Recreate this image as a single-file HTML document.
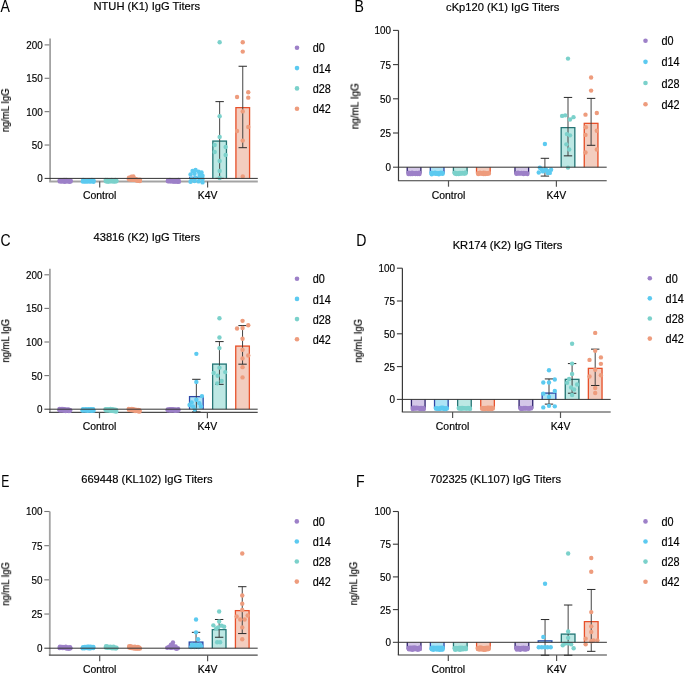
<!DOCTYPE html>
<html><head><meta charset="utf-8"><style>
html,body{margin:0;padding:0;background:#fff;}
svg{display:block;}
text{will-change:transform;}
text{font-family:"Liberation Sans", sans-serif;fill:#000;stroke:#000;stroke-width:0.18px;}
</style></head><body>
<svg width="685" height="674" viewBox="0 0 685 674">
<rect width="685" height="674" fill="#fff"/>
<text x="0" y="0" font-size="16" style="stroke-width:0.05px" transform="translate(0.60,11.80) scale(0.88,1)">A</text>
<text x="93.50" y="9.70" font-size="11.15" text-anchor="start" >NTUH (K1) IgG Titers</text>
<text x="0" y="0" font-size="10.2" text-anchor="middle" transform="translate(9.00,110.30) rotate(-90) scale(0.93,1)">ng/mL IgG</text>
<circle cx="297.00" cy="47.80" r="2.3" fill="#9d80c8"/>
<text x="0" y="0" font-size="12.2" transform="translate(312.70,52.40) scale(0.89,1)">d0</text>
<circle cx="297.00" cy="68.10" r="2.3" fill="#5ccaf0"/>
<text x="0" y="0" font-size="12.2" transform="translate(312.70,72.70) scale(0.89,1)">d14</text>
<circle cx="297.00" cy="88.40" r="2.3" fill="#7bd1cb"/>
<text x="0" y="0" font-size="12.2" transform="translate(312.70,93.00) scale(0.89,1)">d28</text>
<circle cx="297.00" cy="108.70" r="2.3" fill="#ee9c7d"/>
<text x="0" y="0" font-size="12.2" transform="translate(312.70,113.30) scale(0.89,1)">d42</text>
<line x1="44.60" y1="145.03" x2="50.10" y2="145.03" stroke="#777" stroke-width="1.1"/>
<text x="0" y="0" font-size="11.3" text-anchor="end" transform="translate(42.70,148.93) scale(0.875,1)">50</text>
<line x1="44.60" y1="111.65" x2="50.10" y2="111.65" stroke="#777" stroke-width="1.1"/>
<text x="0" y="0" font-size="11.3" text-anchor="end" transform="translate(42.70,115.55) scale(0.875,1)">100</text>
<line x1="44.60" y1="78.28" x2="50.10" y2="78.28" stroke="#777" stroke-width="1.1"/>
<text x="0" y="0" font-size="11.3" text-anchor="end" transform="translate(42.70,82.18) scale(0.875,1)">150</text>
<line x1="44.60" y1="44.90" x2="50.10" y2="44.90" stroke="#777" stroke-width="1.1"/>
<text x="0" y="0" font-size="11.3" text-anchor="end" transform="translate(42.70,48.80) scale(0.875,1)">200</text>
<text x="0" y="0" font-size="11.3" text-anchor="end" transform="translate(42.70,182.30) scale(0.875,1)">0</text>
<line x1="50.10" y1="38.50" x2="50.10" y2="181.50" stroke="#a3a3a3" stroke-width="1.8"/>
<line x1="49.20" y1="181.50" x2="257.80" y2="181.50" stroke="#a3a3a3" stroke-width="1.8"/>
<line x1="99.70" y1="181.50" x2="99.70" y2="187.50" stroke="#555" stroke-width="1.2"/>
<text x="99.70" y="199.30" font-size="10.4" text-anchor="middle" >Control</text>
<line x1="207.60" y1="181.50" x2="207.60" y2="187.50" stroke="#555" stroke-width="1.2"/>
<text x="207.60" y="199.30" font-size="10.4" text-anchor="middle" >K4V</text>
<circle cx="59.79" cy="181.42" r="2.2" fill="#9d80c8"/>
<circle cx="61.31" cy="181.60" r="2.2" fill="#9d80c8"/>
<circle cx="62.97" cy="181.20" r="2.2" fill="#9d80c8"/>
<circle cx="64.38" cy="181.69" r="2.2" fill="#9d80c8"/>
<circle cx="65.82" cy="181.60" r="2.2" fill="#9d80c8"/>
<circle cx="67.17" cy="181.20" r="2.2" fill="#9d80c8"/>
<circle cx="69.13" cy="181.86" r="2.2" fill="#9d80c8"/>
<circle cx="70.57" cy="181.50" r="2.2" fill="#9d80c8"/>
<circle cx="59.68" cy="180.32" r="2.2" fill="#9d80c8"/>
<circle cx="61.37" cy="180.23" r="2.2" fill="#9d80c8"/>
<circle cx="62.89" cy="180.11" r="2.2" fill="#9d80c8"/>
<circle cx="64.07" cy="180.07" r="2.2" fill="#9d80c8"/>
<circle cx="66.10" cy="179.96" r="2.2" fill="#9d80c8"/>
<circle cx="67.39" cy="180.63" r="2.2" fill="#9d80c8"/>
<circle cx="68.54" cy="180.60" r="2.2" fill="#9d80c8"/>
<circle cx="70.61" cy="180.51" r="2.2" fill="#9d80c8"/>
<circle cx="82.82" cy="181.43" r="2.2" fill="#5ccaf0"/>
<circle cx="84.62" cy="181.49" r="2.2" fill="#5ccaf0"/>
<circle cx="85.88" cy="181.41" r="2.2" fill="#5ccaf0"/>
<circle cx="87.20" cy="181.46" r="2.2" fill="#5ccaf0"/>
<circle cx="88.99" cy="181.26" r="2.2" fill="#5ccaf0"/>
<circle cx="90.18" cy="181.61" r="2.2" fill="#5ccaf0"/>
<circle cx="91.69" cy="181.25" r="2.2" fill="#5ccaf0"/>
<circle cx="93.57" cy="181.79" r="2.2" fill="#5ccaf0"/>
<circle cx="83.14" cy="179.94" r="2.2" fill="#5ccaf0"/>
<circle cx="84.46" cy="180.19" r="2.2" fill="#5ccaf0"/>
<circle cx="85.67" cy="180.61" r="2.2" fill="#5ccaf0"/>
<circle cx="87.41" cy="180.58" r="2.2" fill="#5ccaf0"/>
<circle cx="88.72" cy="180.45" r="2.2" fill="#5ccaf0"/>
<circle cx="90.14" cy="180.29" r="2.2" fill="#5ccaf0"/>
<circle cx="91.90" cy="180.03" r="2.2" fill="#5ccaf0"/>
<circle cx="93.46" cy="180.17" r="2.2" fill="#5ccaf0"/>
<circle cx="105.93" cy="181.26" r="2.2" fill="#7bd1cb"/>
<circle cx="107.56" cy="181.65" r="2.2" fill="#7bd1cb"/>
<circle cx="108.69" cy="181.51" r="2.2" fill="#7bd1cb"/>
<circle cx="110.36" cy="181.24" r="2.2" fill="#7bd1cb"/>
<circle cx="112.12" cy="181.41" r="2.2" fill="#7bd1cb"/>
<circle cx="113.56" cy="181.40" r="2.2" fill="#7bd1cb"/>
<circle cx="114.82" cy="181.58" r="2.2" fill="#7bd1cb"/>
<circle cx="116.35" cy="181.29" r="2.2" fill="#7bd1cb"/>
<circle cx="105.69" cy="179.95" r="2.2" fill="#7bd1cb"/>
<circle cx="107.21" cy="180.07" r="2.2" fill="#7bd1cb"/>
<circle cx="108.88" cy="180.29" r="2.2" fill="#7bd1cb"/>
<circle cx="110.70" cy="180.59" r="2.2" fill="#7bd1cb"/>
<circle cx="111.74" cy="179.99" r="2.2" fill="#7bd1cb"/>
<circle cx="113.53" cy="180.60" r="2.2" fill="#7bd1cb"/>
<circle cx="115.33" cy="180.03" r="2.2" fill="#7bd1cb"/>
<circle cx="116.32" cy="180.42" r="2.2" fill="#7bd1cb"/>
<circle cx="128.99" cy="179.21" r="2.2" fill="#ee9c7d"/>
<circle cx="130.37" cy="179.46" r="2.2" fill="#ee9c7d"/>
<circle cx="132.23" cy="179.75" r="2.2" fill="#ee9c7d"/>
<circle cx="133.52" cy="179.73" r="2.2" fill="#ee9c7d"/>
<circle cx="135.13" cy="179.84" r="2.2" fill="#ee9c7d"/>
<circle cx="136.61" cy="180.48" r="2.2" fill="#ee9c7d"/>
<circle cx="138.20" cy="180.91" r="2.2" fill="#ee9c7d"/>
<circle cx="139.89" cy="181.09" r="2.2" fill="#ee9c7d"/>
<circle cx="128.98" cy="177.67" r="2.2" fill="#ee9c7d"/>
<circle cx="130.36" cy="177.97" r="2.2" fill="#ee9c7d"/>
<circle cx="132.29" cy="178.49" r="2.2" fill="#ee9c7d"/>
<circle cx="133.86" cy="178.64" r="2.2" fill="#ee9c7d"/>
<circle cx="135.27" cy="178.97" r="2.2" fill="#ee9c7d"/>
<circle cx="136.56" cy="179.39" r="2.2" fill="#ee9c7d"/>
<circle cx="137.84" cy="179.72" r="2.2" fill="#ee9c7d"/>
<circle cx="139.94" cy="179.78" r="2.2" fill="#ee9c7d"/>
<circle cx="131.35" cy="176.73" r="2.2" fill="#ee9c7d"/>
<circle cx="133.35" cy="176.40" r="2.2" fill="#ee9c7d"/>
<circle cx="167.95" cy="181.24" r="2.2" fill="#9d80c8"/>
<circle cx="169.75" cy="181.41" r="2.2" fill="#9d80c8"/>
<circle cx="171.01" cy="181.22" r="2.2" fill="#9d80c8"/>
<circle cx="172.88" cy="181.45" r="2.2" fill="#9d80c8"/>
<circle cx="174.21" cy="181.67" r="2.2" fill="#9d80c8"/>
<circle cx="175.42" cy="181.60" r="2.2" fill="#9d80c8"/>
<circle cx="177.29" cy="181.84" r="2.2" fill="#9d80c8"/>
<circle cx="178.93" cy="181.76" r="2.2" fill="#9d80c8"/>
<circle cx="167.99" cy="180.49" r="2.2" fill="#9d80c8"/>
<circle cx="169.96" cy="180.03" r="2.2" fill="#9d80c8"/>
<circle cx="171.40" cy="180.15" r="2.2" fill="#9d80c8"/>
<circle cx="172.41" cy="180.38" r="2.2" fill="#9d80c8"/>
<circle cx="174.21" cy="180.55" r="2.2" fill="#9d80c8"/>
<circle cx="175.99" cy="180.40" r="2.2" fill="#9d80c8"/>
<circle cx="177.03" cy="180.12" r="2.2" fill="#9d80c8"/>
<circle cx="178.52" cy="180.07" r="2.2" fill="#9d80c8"/>
<path d="M189.75,178.40 L189.75,177.43 L203.35,177.43 L203.35,178.40" fill="none" stroke="#3147a8" stroke-width="1.25"/>
<circle cx="192.55" cy="171.06" r="2.2" fill="#5ccaf0"/>
<circle cx="195.55" cy="170.06" r="2.2" fill="#5ccaf0"/>
<circle cx="198.55" cy="171.72" r="2.2" fill="#5ccaf0"/>
<circle cx="201.55" cy="172.39" r="2.2" fill="#5ccaf0"/>
<circle cx="190.55" cy="174.40" r="2.2" fill="#5ccaf0"/>
<circle cx="194.55" cy="173.73" r="2.2" fill="#5ccaf0"/>
<circle cx="199.55" cy="175.06" r="2.2" fill="#5ccaf0"/>
<circle cx="202.55" cy="175.73" r="2.2" fill="#5ccaf0"/>
<circle cx="191.55" cy="178.73" r="2.2" fill="#5ccaf0"/>
<circle cx="195.55" cy="177.73" r="2.2" fill="#5ccaf0"/>
<circle cx="199.55" cy="178.40" r="2.2" fill="#5ccaf0"/>
<circle cx="202.55" cy="179.07" r="2.2" fill="#5ccaf0"/>
<circle cx="190.55" cy="181.74" r="2.2" fill="#5ccaf0"/>
<circle cx="194.55" cy="181.07" r="2.2" fill="#5ccaf0"/>
<circle cx="198.55" cy="181.40" r="2.2" fill="#5ccaf0"/>
<circle cx="202.55" cy="182.41" r="2.2" fill="#5ccaf0"/>
<rect x="212.15" y="140.35" width="15.00" height="38.05" fill="#bde8e4"/>
<path d="M212.85,178.40 L212.85,141.05 L226.45,141.05 L226.45,178.40" fill="none" stroke="#267474" stroke-width="1.25"/>
<line x1="219.65" y1="101.64" x2="219.65" y2="178.40" stroke="#3a3a3a" stroke-width="0.95"/>
<line x1="215.45" y1="101.64" x2="223.85" y2="101.64" stroke="#2a2a2a" stroke-width="1.0"/>
<line x1="215.45" y1="178.40" x2="223.85" y2="178.40" stroke="#2a2a2a" stroke-width="1.0"/>
<circle cx="219.65" cy="42.23" r="2.2" fill="#7bd1cb"/>
<circle cx="219.65" cy="116.19" r="2.2" fill="#7bd1cb"/>
<circle cx="219.65" cy="136.88" r="2.2" fill="#7bd1cb"/>
<circle cx="214.65" cy="145.03" r="2.2" fill="#7bd1cb"/>
<circle cx="225.65" cy="147.03" r="2.2" fill="#7bd1cb"/>
<circle cx="214.65" cy="152.03" r="2.2" fill="#7bd1cb"/>
<circle cx="225.65" cy="155.04" r="2.2" fill="#7bd1cb"/>
<circle cx="219.65" cy="161.05" r="2.2" fill="#7bd1cb"/>
<circle cx="219.65" cy="171.06" r="2.2" fill="#7bd1cb"/>
<circle cx="219.65" cy="178.00" r="2.2" fill="#7bd1cb"/>
<rect x="235.25" y="106.98" width="15.00" height="71.42" fill="#f3cdbf"/>
<path d="M235.95,178.40 L235.95,107.68 L249.55,107.68 L249.55,178.40" fill="none" stroke="#e8502a" stroke-width="1.25"/>
<line x1="242.75" y1="66.26" x2="242.75" y2="147.69" stroke="#3a3a3a" stroke-width="0.95"/>
<line x1="238.55" y1="66.26" x2="246.95" y2="66.26" stroke="#2a2a2a" stroke-width="1.0"/>
<line x1="238.55" y1="147.69" x2="246.95" y2="147.69" stroke="#2a2a2a" stroke-width="1.0"/>
<circle cx="242.75" cy="42.23" r="2.2" fill="#ee9c7d"/>
<circle cx="242.75" cy="51.58" r="2.2" fill="#ee9c7d"/>
<circle cx="237.05" cy="96.97" r="2.2" fill="#ee9c7d"/>
<circle cx="248.25" cy="92.29" r="2.2" fill="#ee9c7d"/>
<circle cx="248.25" cy="97.63" r="2.2" fill="#ee9c7d"/>
<circle cx="242.75" cy="111.38" r="2.2" fill="#ee9c7d"/>
<circle cx="237.05" cy="131.01" r="2.2" fill="#ee9c7d"/>
<circle cx="248.25" cy="127.00" r="2.2" fill="#ee9c7d"/>
<circle cx="242.75" cy="140.62" r="2.2" fill="#ee9c7d"/>
<circle cx="242.75" cy="176.53" r="2.2" fill="#ee9c7d"/>
<line x1="44.60" y1="178.40" x2="257.80" y2="178.40" stroke="#333" stroke-width="1.0"/>
<text x="0" y="0" font-size="16" style="stroke-width:0.05px" transform="translate(354.60,11.80) scale(0.88,1)">B</text>
<text x="446.10" y="10.70" font-size="11.15" text-anchor="start" >cKp120 (K1) IgG Titers</text>
<text x="0" y="0" font-size="10.2" text-anchor="middle" transform="translate(358.50,106.20) rotate(-90) scale(0.98,1)">ng/mL IgG</text>
<circle cx="645.50" cy="40.70" r="2.3" fill="#9d80c8"/>
<text x="0" y="0" font-size="12.2" transform="translate(661.50,45.30) scale(0.89,1)">d0</text>
<circle cx="645.50" cy="61.87" r="2.3" fill="#5ccaf0"/>
<text x="0" y="0" font-size="12.2" transform="translate(661.50,66.47) scale(0.89,1)">d14</text>
<circle cx="645.50" cy="83.04" r="2.3" fill="#7bd1cb"/>
<text x="0" y="0" font-size="12.2" transform="translate(661.50,87.64) scale(0.89,1)">d28</text>
<circle cx="645.50" cy="104.21" r="2.3" fill="#ee9c7d"/>
<text x="0" y="0" font-size="12.2" transform="translate(661.50,108.81) scale(0.89,1)">d42</text>
<line x1="393.00" y1="133.00" x2="398.50" y2="133.00" stroke="#3a3a3a" stroke-width="1.1"/>
<text x="0" y="0" font-size="11.3" text-anchor="end" transform="translate(391.10,136.90) scale(0.875,1)">25</text>
<line x1="393.00" y1="98.80" x2="398.50" y2="98.80" stroke="#3a3a3a" stroke-width="1.1"/>
<text x="0" y="0" font-size="11.3" text-anchor="end" transform="translate(391.10,102.70) scale(0.875,1)">50</text>
<line x1="393.00" y1="64.60" x2="398.50" y2="64.60" stroke="#3a3a3a" stroke-width="1.1"/>
<text x="0" y="0" font-size="11.3" text-anchor="end" transform="translate(391.10,68.50) scale(0.875,1)">75</text>
<line x1="393.00" y1="30.40" x2="398.50" y2="30.40" stroke="#3a3a3a" stroke-width="1.1"/>
<text x="0" y="0" font-size="11.3" text-anchor="end" transform="translate(391.10,34.30) scale(0.875,1)">100</text>
<text x="0" y="0" font-size="11.3" text-anchor="end" transform="translate(391.10,171.10) scale(0.875,1)">0</text>
<line x1="398.50" y1="30.40" x2="398.50" y2="180.70" stroke="#3a3a3a" stroke-width="1.2"/>
<line x1="397.90" y1="180.70" x2="606.70" y2="180.70" stroke="#3a3a3a" stroke-width="1.1"/>
<line x1="448.50" y1="180.70" x2="448.50" y2="186.70" stroke="#555" stroke-width="1.2"/>
<text x="448.50" y="198.50" font-size="10.4" text-anchor="middle" >Control</text>
<line x1="556.40" y1="180.70" x2="556.40" y2="186.70" stroke="#555" stroke-width="1.2"/>
<text x="556.40" y="198.50" font-size="10.4" text-anchor="middle" >K4V</text>
<rect x="406.55" y="167.20" width="15.00" height="6.40" fill="#d4c8e8"/>
<path d="M407.25,167.20 L407.25,172.90 L420.85,172.90 L420.85,167.20" fill="none" stroke="#30256e" stroke-width="1.25"/>
<circle cx="408.67" cy="172.79" r="2.2" fill="#9d80c8"/>
<circle cx="410.17" cy="173.10" r="2.2" fill="#9d80c8"/>
<circle cx="412.08" cy="172.77" r="2.2" fill="#9d80c8"/>
<circle cx="413.99" cy="173.09" r="2.2" fill="#9d80c8"/>
<circle cx="416.14" cy="172.94" r="2.2" fill="#9d80c8"/>
<circle cx="417.95" cy="173.39" r="2.2" fill="#9d80c8"/>
<circle cx="419.30" cy="172.61" r="2.2" fill="#9d80c8"/>
<circle cx="408.45" cy="174.10" r="2.2" fill="#9d80c8"/>
<circle cx="410.51" cy="174.16" r="2.2" fill="#9d80c8"/>
<circle cx="412.53" cy="173.94" r="2.2" fill="#9d80c8"/>
<circle cx="414.07" cy="173.45" r="2.2" fill="#9d80c8"/>
<circle cx="415.56" cy="174.07" r="2.2" fill="#9d80c8"/>
<circle cx="417.75" cy="174.03" r="2.2" fill="#9d80c8"/>
<circle cx="419.49" cy="173.96" r="2.2" fill="#9d80c8"/>
<rect x="429.65" y="167.20" width="15.00" height="6.40" fill="#ade4f6"/>
<path d="M430.35,167.20 L430.35,172.90 L443.95,172.90 L443.95,167.20" fill="none" stroke="#3147a8" stroke-width="1.25"/>
<circle cx="431.46" cy="172.64" r="2.2" fill="#5ccaf0"/>
<circle cx="433.49" cy="173.13" r="2.2" fill="#5ccaf0"/>
<circle cx="435.13" cy="172.64" r="2.2" fill="#5ccaf0"/>
<circle cx="436.99" cy="173.19" r="2.2" fill="#5ccaf0"/>
<circle cx="438.74" cy="173.17" r="2.2" fill="#5ccaf0"/>
<circle cx="440.85" cy="172.66" r="2.2" fill="#5ccaf0"/>
<circle cx="442.57" cy="172.93" r="2.2" fill="#5ccaf0"/>
<circle cx="431.70" cy="174.23" r="2.2" fill="#5ccaf0"/>
<circle cx="433.31" cy="173.41" r="2.2" fill="#5ccaf0"/>
<circle cx="435.61" cy="173.73" r="2.2" fill="#5ccaf0"/>
<circle cx="436.97" cy="173.67" r="2.2" fill="#5ccaf0"/>
<circle cx="438.87" cy="174.20" r="2.2" fill="#5ccaf0"/>
<circle cx="440.58" cy="173.57" r="2.2" fill="#5ccaf0"/>
<circle cx="442.60" cy="173.85" r="2.2" fill="#5ccaf0"/>
<rect x="452.75" y="167.20" width="15.00" height="6.40" fill="#bde8e4"/>
<path d="M453.45,167.20 L453.45,172.90 L467.05,172.90 L467.05,167.20" fill="none" stroke="#267474" stroke-width="1.25"/>
<circle cx="454.60" cy="172.73" r="2.2" fill="#7bd1cb"/>
<circle cx="456.53" cy="173.31" r="2.2" fill="#7bd1cb"/>
<circle cx="458.45" cy="173.16" r="2.2" fill="#7bd1cb"/>
<circle cx="460.01" cy="172.98" r="2.2" fill="#7bd1cb"/>
<circle cx="462.26" cy="172.99" r="2.2" fill="#7bd1cb"/>
<circle cx="464.12" cy="173.29" r="2.2" fill="#7bd1cb"/>
<circle cx="465.57" cy="172.55" r="2.2" fill="#7bd1cb"/>
<circle cx="455.00" cy="173.50" r="2.2" fill="#7bd1cb"/>
<circle cx="456.36" cy="174.01" r="2.2" fill="#7bd1cb"/>
<circle cx="458.66" cy="174.10" r="2.2" fill="#7bd1cb"/>
<circle cx="460.52" cy="173.56" r="2.2" fill="#7bd1cb"/>
<circle cx="461.80" cy="173.49" r="2.2" fill="#7bd1cb"/>
<circle cx="464.14" cy="173.49" r="2.2" fill="#7bd1cb"/>
<circle cx="465.45" cy="173.41" r="2.2" fill="#7bd1cb"/>
<rect x="475.85" y="167.20" width="15.00" height="6.40" fill="#f3cdbf"/>
<path d="M476.55,167.20 L476.55,172.90 L490.15,172.90 L490.15,167.20" fill="none" stroke="#e8502a" stroke-width="1.25"/>
<circle cx="477.99" cy="173.08" r="2.2" fill="#ee9c7d"/>
<circle cx="479.94" cy="172.78" r="2.2" fill="#ee9c7d"/>
<circle cx="481.64" cy="173.30" r="2.2" fill="#ee9c7d"/>
<circle cx="483.60" cy="172.71" r="2.2" fill="#ee9c7d"/>
<circle cx="485.24" cy="173.07" r="2.2" fill="#ee9c7d"/>
<circle cx="486.95" cy="173.36" r="2.2" fill="#ee9c7d"/>
<circle cx="488.77" cy="172.92" r="2.2" fill="#ee9c7d"/>
<circle cx="478.22" cy="173.93" r="2.2" fill="#ee9c7d"/>
<circle cx="479.63" cy="173.65" r="2.2" fill="#ee9c7d"/>
<circle cx="481.55" cy="173.44" r="2.2" fill="#ee9c7d"/>
<circle cx="483.41" cy="174.01" r="2.2" fill="#ee9c7d"/>
<circle cx="485.11" cy="174.10" r="2.2" fill="#ee9c7d"/>
<circle cx="487.21" cy="173.86" r="2.2" fill="#ee9c7d"/>
<circle cx="488.86" cy="173.49" r="2.2" fill="#ee9c7d"/>
<rect x="514.30" y="167.20" width="15.00" height="6.40" fill="#d4c8e8"/>
<path d="M515.00,167.20 L515.00,172.90 L528.60,172.90 L528.60,167.20" fill="none" stroke="#30256e" stroke-width="1.25"/>
<circle cx="516.38" cy="173.29" r="2.2" fill="#9d80c8"/>
<circle cx="517.92" cy="172.79" r="2.2" fill="#9d80c8"/>
<circle cx="520.28" cy="173.11" r="2.2" fill="#9d80c8"/>
<circle cx="521.58" cy="172.84" r="2.2" fill="#9d80c8"/>
<circle cx="523.83" cy="172.92" r="2.2" fill="#9d80c8"/>
<circle cx="525.12" cy="173.30" r="2.2" fill="#9d80c8"/>
<circle cx="526.98" cy="173.09" r="2.2" fill="#9d80c8"/>
<circle cx="516.47" cy="173.78" r="2.2" fill="#9d80c8"/>
<circle cx="518.48" cy="173.54" r="2.2" fill="#9d80c8"/>
<circle cx="520.06" cy="173.49" r="2.2" fill="#9d80c8"/>
<circle cx="522.08" cy="173.51" r="2.2" fill="#9d80c8"/>
<circle cx="523.61" cy="174.09" r="2.2" fill="#9d80c8"/>
<circle cx="525.63" cy="173.47" r="2.2" fill="#9d80c8"/>
<circle cx="527.43" cy="174.10" r="2.2" fill="#9d80c8"/>
<rect x="537.40" y="167.20" width="15.00" height="0.68" fill="#ade4f6"/>
<line x1="544.90" y1="158.31" x2="544.90" y2="176.09" stroke="#3a3a3a" stroke-width="0.95"/>
<line x1="540.70" y1="158.31" x2="549.10" y2="158.31" stroke="#2a2a2a" stroke-width="1.0"/>
<line x1="540.70" y1="176.09" x2="549.10" y2="176.09" stroke="#2a2a2a" stroke-width="1.0"/>
<circle cx="544.90" cy="143.94" r="2.2" fill="#5ccaf0"/>
<circle cx="538.76" cy="172.46" r="2.2" fill="#5ccaf0"/>
<circle cx="539.83" cy="167.79" r="2.2" fill="#5ccaf0"/>
<circle cx="541.66" cy="169.32" r="2.2" fill="#5ccaf0"/>
<circle cx="542.96" cy="171.42" r="2.2" fill="#5ccaf0"/>
<circle cx="544.51" cy="170.10" r="2.2" fill="#5ccaf0"/>
<circle cx="545.90" cy="169.51" r="2.2" fill="#5ccaf0"/>
<circle cx="547.31" cy="171.03" r="2.2" fill="#5ccaf0"/>
<circle cx="547.82" cy="173.02" r="2.2" fill="#5ccaf0"/>
<circle cx="549.83" cy="172.89" r="2.2" fill="#5ccaf0"/>
<circle cx="551.09" cy="169.79" r="2.2" fill="#5ccaf0"/>
<rect x="560.50" y="126.98" width="15.00" height="40.22" fill="#bde8e4"/>
<path d="M561.20,167.20 L561.20,127.68 L574.80,127.68 L574.80,167.20" fill="none" stroke="#267474" stroke-width="1.25"/>
<line x1="568.00" y1="97.43" x2="568.00" y2="155.85" stroke="#3a3a3a" stroke-width="0.95"/>
<line x1="563.80" y1="97.43" x2="572.20" y2="97.43" stroke="#2a2a2a" stroke-width="1.0"/>
<line x1="563.80" y1="155.85" x2="572.20" y2="155.85" stroke="#2a2a2a" stroke-width="1.0"/>
<circle cx="568.00" cy="58.58" r="2.2" fill="#7bd1cb"/>
<circle cx="562.10" cy="115.90" r="2.2" fill="#7bd1cb"/>
<circle cx="565.20" cy="115.35" r="2.2" fill="#7bd1cb"/>
<circle cx="570.00" cy="119.46" r="2.2" fill="#7bd1cb"/>
<circle cx="573.50" cy="117.13" r="2.2" fill="#7bd1cb"/>
<circle cx="566.90" cy="134.09" r="2.2" fill="#7bd1cb"/>
<circle cx="570.00" cy="135.33" r="2.2" fill="#7bd1cb"/>
<circle cx="566.40" cy="144.35" r="2.2" fill="#7bd1cb"/>
<circle cx="569.20" cy="149.55" r="2.2" fill="#7bd1cb"/>
<circle cx="568.00" cy="167.61" r="2.2" fill="#7bd1cb"/>
<rect x="583.60" y="122.74" width="15.00" height="44.46" fill="#f3cdbf"/>
<path d="M584.30,167.20 L584.30,123.44 L597.90,123.44 L597.90,167.20" fill="none" stroke="#e8502a" stroke-width="1.25"/>
<line x1="591.10" y1="98.39" x2="591.10" y2="145.31" stroke="#3a3a3a" stroke-width="0.95"/>
<line x1="586.90" y1="98.39" x2="595.30" y2="98.39" stroke="#2a2a2a" stroke-width="1.0"/>
<line x1="586.90" y1="145.31" x2="595.30" y2="145.31" stroke="#2a2a2a" stroke-width="1.0"/>
<circle cx="591.10" cy="77.46" r="2.2" fill="#ee9c7d"/>
<circle cx="591.10" cy="90.59" r="2.2" fill="#ee9c7d"/>
<circle cx="596.80" cy="113.03" r="2.2" fill="#ee9c7d"/>
<circle cx="585.50" cy="114.67" r="2.2" fill="#ee9c7d"/>
<circle cx="585.90" cy="127.25" r="2.2" fill="#ee9c7d"/>
<circle cx="596.80" cy="130.81" r="2.2" fill="#ee9c7d"/>
<circle cx="585.50" cy="134.92" r="2.2" fill="#ee9c7d"/>
<circle cx="596.80" cy="149.55" r="2.2" fill="#ee9c7d"/>
<circle cx="585.50" cy="152.56" r="2.2" fill="#ee9c7d"/>
<line x1="393.00" y1="167.20" x2="606.70" y2="167.20" stroke="#333" stroke-width="1.0"/>
<text x="0" y="0" font-size="16" style="stroke-width:0.05px" transform="translate(0.40,246.20) scale(0.87,1)">C</text>
<text x="93.50" y="241.40" font-size="11.15" text-anchor="start" >43816 (K2) IgG Titers</text>
<text x="0" y="0" font-size="10.2" text-anchor="middle" transform="translate(9.20,340.80) rotate(-90) scale(0.93,1)">ng/mL IgG</text>
<circle cx="297.00" cy="278.70" r="2.3" fill="#9d80c8"/>
<text x="0" y="0" font-size="12.2" transform="translate(312.70,283.30) scale(0.89,1)">d0</text>
<circle cx="297.00" cy="298.90" r="2.3" fill="#5ccaf0"/>
<text x="0" y="0" font-size="12.2" transform="translate(312.70,303.50) scale(0.89,1)">d14</text>
<circle cx="297.00" cy="319.10" r="2.3" fill="#7bd1cb"/>
<text x="0" y="0" font-size="12.2" transform="translate(312.70,323.70) scale(0.89,1)">d28</text>
<circle cx="297.00" cy="339.30" r="2.3" fill="#ee9c7d"/>
<text x="0" y="0" font-size="12.2" transform="translate(312.70,343.90) scale(0.89,1)">d42</text>
<line x1="44.40" y1="375.60" x2="49.90" y2="375.60" stroke="#777" stroke-width="1.1"/>
<text x="0" y="0" font-size="11.3" text-anchor="end" transform="translate(42.50,379.50) scale(0.875,1)">50</text>
<line x1="44.40" y1="342.00" x2="49.90" y2="342.00" stroke="#777" stroke-width="1.1"/>
<text x="0" y="0" font-size="11.3" text-anchor="end" transform="translate(42.50,345.90) scale(0.875,1)">100</text>
<line x1="44.40" y1="308.40" x2="49.90" y2="308.40" stroke="#777" stroke-width="1.1"/>
<text x="0" y="0" font-size="11.3" text-anchor="end" transform="translate(42.50,312.30) scale(0.875,1)">150</text>
<line x1="44.40" y1="274.80" x2="49.90" y2="274.80" stroke="#777" stroke-width="1.1"/>
<text x="0" y="0" font-size="11.3" text-anchor="end" transform="translate(42.50,278.70) scale(0.875,1)">200</text>
<text x="0" y="0" font-size="11.3" text-anchor="end" transform="translate(42.50,413.10) scale(0.875,1)">0</text>
<line x1="49.90" y1="268.80" x2="49.90" y2="412.30" stroke="#a3a3a3" stroke-width="1.8"/>
<line x1="49.00" y1="412.30" x2="257.70" y2="412.30" stroke="#4a4a4a" stroke-width="1.3"/>
<line x1="99.50" y1="412.30" x2="99.50" y2="418.30" stroke="#555" stroke-width="1.2"/>
<text x="99.50" y="430.10" font-size="10.4" text-anchor="middle" >Control</text>
<line x1="207.40" y1="412.30" x2="207.40" y2="418.30" stroke="#555" stroke-width="1.2"/>
<text x="207.40" y="430.10" font-size="10.4" text-anchor="middle" >K4V</text>
<circle cx="59.55" cy="410.37" r="2.2" fill="#9d80c8"/>
<circle cx="61.15" cy="410.50" r="2.2" fill="#9d80c8"/>
<circle cx="62.56" cy="410.11" r="2.2" fill="#9d80c8"/>
<circle cx="63.84" cy="410.68" r="2.2" fill="#9d80c8"/>
<circle cx="65.71" cy="410.95" r="2.2" fill="#9d80c8"/>
<circle cx="66.91" cy="410.55" r="2.2" fill="#9d80c8"/>
<circle cx="68.92" cy="411.02" r="2.2" fill="#9d80c8"/>
<circle cx="69.96" cy="410.68" r="2.2" fill="#9d80c8"/>
<circle cx="59.45" cy="408.93" r="2.2" fill="#9d80c8"/>
<circle cx="61.13" cy="409.03" r="2.2" fill="#9d80c8"/>
<circle cx="62.83" cy="408.91" r="2.2" fill="#9d80c8"/>
<circle cx="64.21" cy="409.12" r="2.2" fill="#9d80c8"/>
<circle cx="65.78" cy="409.36" r="2.2" fill="#9d80c8"/>
<circle cx="67.08" cy="409.77" r="2.2" fill="#9d80c8"/>
<circle cx="68.50" cy="409.39" r="2.2" fill="#9d80c8"/>
<circle cx="70.27" cy="410.08" r="2.2" fill="#9d80c8"/>
<circle cx="82.50" cy="410.60" r="2.2" fill="#5ccaf0"/>
<circle cx="83.96" cy="410.38" r="2.2" fill="#5ccaf0"/>
<circle cx="85.52" cy="410.57" r="2.2" fill="#5ccaf0"/>
<circle cx="87.45" cy="410.68" r="2.2" fill="#5ccaf0"/>
<circle cx="88.99" cy="410.44" r="2.2" fill="#5ccaf0"/>
<circle cx="90.25" cy="410.52" r="2.2" fill="#5ccaf0"/>
<circle cx="91.79" cy="410.70" r="2.2" fill="#5ccaf0"/>
<circle cx="93.55" cy="410.67" r="2.2" fill="#5ccaf0"/>
<circle cx="82.94" cy="409.16" r="2.2" fill="#5ccaf0"/>
<circle cx="83.88" cy="409.58" r="2.2" fill="#5ccaf0"/>
<circle cx="85.67" cy="409.19" r="2.2" fill="#5ccaf0"/>
<circle cx="87.00" cy="409.33" r="2.2" fill="#5ccaf0"/>
<circle cx="88.63" cy="409.21" r="2.2" fill="#5ccaf0"/>
<circle cx="90.48" cy="409.22" r="2.2" fill="#5ccaf0"/>
<circle cx="91.55" cy="409.22" r="2.2" fill="#5ccaf0"/>
<circle cx="93.21" cy="409.17" r="2.2" fill="#5ccaf0"/>
<circle cx="106.04" cy="410.42" r="2.2" fill="#7bd1cb"/>
<circle cx="107.40" cy="410.26" r="2.2" fill="#7bd1cb"/>
<circle cx="109.04" cy="410.46" r="2.2" fill="#7bd1cb"/>
<circle cx="110.54" cy="410.77" r="2.2" fill="#7bd1cb"/>
<circle cx="112.10" cy="410.74" r="2.2" fill="#7bd1cb"/>
<circle cx="113.13" cy="410.93" r="2.2" fill="#7bd1cb"/>
<circle cx="114.91" cy="411.29" r="2.2" fill="#7bd1cb"/>
<circle cx="116.28" cy="411.45" r="2.2" fill="#7bd1cb"/>
<circle cx="105.49" cy="409.14" r="2.2" fill="#7bd1cb"/>
<circle cx="107.10" cy="409.21" r="2.2" fill="#7bd1cb"/>
<circle cx="108.95" cy="409.25" r="2.2" fill="#7bd1cb"/>
<circle cx="110.51" cy="409.06" r="2.2" fill="#7bd1cb"/>
<circle cx="112.04" cy="409.16" r="2.2" fill="#7bd1cb"/>
<circle cx="113.37" cy="409.50" r="2.2" fill="#7bd1cb"/>
<circle cx="115.06" cy="409.73" r="2.2" fill="#7bd1cb"/>
<circle cx="116.14" cy="409.89" r="2.2" fill="#7bd1cb"/>
<circle cx="128.92" cy="409.73" r="2.2" fill="#ee9c7d"/>
<circle cx="130.34" cy="410.03" r="2.2" fill="#ee9c7d"/>
<circle cx="132.14" cy="410.33" r="2.2" fill="#ee9c7d"/>
<circle cx="133.53" cy="410.36" r="2.2" fill="#ee9c7d"/>
<circle cx="135.12" cy="411.02" r="2.2" fill="#ee9c7d"/>
<circle cx="136.22" cy="410.52" r="2.2" fill="#ee9c7d"/>
<circle cx="138.08" cy="411.20" r="2.2" fill="#ee9c7d"/>
<circle cx="139.60" cy="411.44" r="2.2" fill="#ee9c7d"/>
<circle cx="128.77" cy="408.85" r="2.2" fill="#ee9c7d"/>
<circle cx="130.20" cy="409.23" r="2.2" fill="#ee9c7d"/>
<circle cx="131.88" cy="409.05" r="2.2" fill="#ee9c7d"/>
<circle cx="133.28" cy="409.21" r="2.2" fill="#ee9c7d"/>
<circle cx="135.20" cy="409.80" r="2.2" fill="#ee9c7d"/>
<circle cx="136.29" cy="409.95" r="2.2" fill="#ee9c7d"/>
<circle cx="138.04" cy="409.90" r="2.2" fill="#ee9c7d"/>
<circle cx="139.41" cy="410.18" r="2.2" fill="#ee9c7d"/>
<circle cx="167.83" cy="410.35" r="2.2" fill="#9d80c8"/>
<circle cx="169.32" cy="410.25" r="2.2" fill="#9d80c8"/>
<circle cx="170.96" cy="410.64" r="2.2" fill="#9d80c8"/>
<circle cx="172.73" cy="410.37" r="2.2" fill="#9d80c8"/>
<circle cx="174.22" cy="410.52" r="2.2" fill="#9d80c8"/>
<circle cx="175.33" cy="410.77" r="2.2" fill="#9d80c8"/>
<circle cx="176.88" cy="410.54" r="2.2" fill="#9d80c8"/>
<circle cx="178.26" cy="410.60" r="2.2" fill="#9d80c8"/>
<circle cx="167.75" cy="409.34" r="2.2" fill="#9d80c8"/>
<circle cx="169.54" cy="409.14" r="2.2" fill="#9d80c8"/>
<circle cx="170.99" cy="409.28" r="2.2" fill="#9d80c8"/>
<circle cx="172.55" cy="409.31" r="2.2" fill="#9d80c8"/>
<circle cx="173.77" cy="409.57" r="2.2" fill="#9d80c8"/>
<circle cx="175.23" cy="409.45" r="2.2" fill="#9d80c8"/>
<circle cx="176.91" cy="409.73" r="2.2" fill="#9d80c8"/>
<circle cx="178.41" cy="409.30" r="2.2" fill="#9d80c8"/>
<rect x="188.85" y="395.89" width="15.00" height="13.31" fill="#ade4f6"/>
<path d="M189.55,409.20 L189.55,396.59 L203.15,396.59 L203.15,409.20" fill="none" stroke="#3147a8" stroke-width="1.25"/>
<line x1="196.35" y1="379.30" x2="196.35" y2="411.89" stroke="#3a3a3a" stroke-width="0.95"/>
<line x1="192.15" y1="379.30" x2="200.55" y2="379.30" stroke="#2a2a2a" stroke-width="1.0"/>
<line x1="192.15" y1="411.89" x2="200.55" y2="411.89" stroke="#2a2a2a" stroke-width="1.0"/>
<circle cx="196.35" cy="353.83" r="2.2" fill="#5ccaf0"/>
<circle cx="196.35" cy="381.92" r="2.2" fill="#5ccaf0"/>
<circle cx="201.95" cy="396.10" r="2.2" fill="#5ccaf0"/>
<circle cx="191.65" cy="402.41" r="2.2" fill="#5ccaf0"/>
<circle cx="196.35" cy="399.72" r="2.2" fill="#5ccaf0"/>
<circle cx="199.35" cy="403.29" r="2.2" fill="#5ccaf0"/>
<circle cx="193.05" cy="406.51" r="2.2" fill="#5ccaf0"/>
<circle cx="201.05" cy="406.51" r="2.2" fill="#5ccaf0"/>
<circle cx="194.85" cy="409.47" r="2.2" fill="#5ccaf0"/>
<circle cx="189.55" cy="405.03" r="2.2" fill="#5ccaf0"/>
<rect x="211.95" y="363.30" width="15.00" height="45.90" fill="#bde8e4"/>
<path d="M212.65,409.20 L212.65,364.00 L226.25,364.00 L226.25,409.20" fill="none" stroke="#267474" stroke-width="1.25"/>
<line x1="219.45" y1="341.60" x2="219.45" y2="384.34" stroke="#3a3a3a" stroke-width="0.95"/>
<line x1="215.25" y1="341.60" x2="223.65" y2="341.60" stroke="#2a2a2a" stroke-width="1.0"/>
<line x1="215.25" y1="384.34" x2="223.65" y2="384.34" stroke="#2a2a2a" stroke-width="1.0"/>
<circle cx="219.45" cy="318.21" r="2.2" fill="#7bd1cb"/>
<circle cx="219.45" cy="337.43" r="2.2" fill="#7bd1cb"/>
<circle cx="219.45" cy="348.12" r="2.2" fill="#7bd1cb"/>
<circle cx="219.45" cy="367.67" r="2.2" fill="#7bd1cb"/>
<circle cx="213.65" cy="372.98" r="2.2" fill="#7bd1cb"/>
<circle cx="225.25" cy="372.11" r="2.2" fill="#7bd1cb"/>
<circle cx="217.65" cy="375.73" r="2.2" fill="#7bd1cb"/>
<circle cx="221.65" cy="380.98" r="2.2" fill="#7bd1cb"/>
<circle cx="217.25" cy="383.33" r="2.2" fill="#7bd1cb"/>
<rect x="235.05" y="345.49" width="15.00" height="63.71" fill="#f3cdbf"/>
<path d="M235.75,409.20 L235.75,346.19 L249.35,346.19 L249.35,409.20" fill="none" stroke="#e8502a" stroke-width="1.25"/>
<line x1="242.55" y1="325.60" x2="242.55" y2="364.18" stroke="#3a3a3a" stroke-width="0.95"/>
<line x1="238.35" y1="325.60" x2="246.75" y2="325.60" stroke="#2a2a2a" stroke-width="1.0"/>
<line x1="238.35" y1="364.18" x2="246.75" y2="364.18" stroke="#2a2a2a" stroke-width="1.0"/>
<circle cx="242.55" cy="320.83" r="2.2" fill="#ee9c7d"/>
<circle cx="248.25" cy="325.27" r="2.2" fill="#ee9c7d"/>
<circle cx="237.05" cy="328.49" r="2.2" fill="#ee9c7d"/>
<circle cx="242.55" cy="328.02" r="2.2" fill="#ee9c7d"/>
<circle cx="242.55" cy="338.77" r="2.2" fill="#ee9c7d"/>
<circle cx="242.55" cy="349.80" r="2.2" fill="#ee9c7d"/>
<circle cx="248.25" cy="355.51" r="2.2" fill="#ee9c7d"/>
<circle cx="242.55" cy="358.40" r="2.2" fill="#ee9c7d"/>
<circle cx="242.55" cy="367.13" r="2.2" fill="#ee9c7d"/>
<circle cx="242.55" cy="377.41" r="2.2" fill="#ee9c7d"/>
<line x1="44.40" y1="409.20" x2="257.70" y2="409.20" stroke="#333" stroke-width="1.0"/>
<text x="0" y="0" font-size="16" style="stroke-width:0.05px" transform="translate(356.20,245.60) scale(0.88,1)">D</text>
<text x="452.70" y="249.20" font-size="11.15" text-anchor="start" >KR174 (K2) IgG Titers</text>
<text x="0" y="0" font-size="10.2" text-anchor="middle" transform="translate(361.80,340.90) rotate(-90) scale(0.93,1)">ng/mL IgG</text>
<circle cx="649.80" cy="278.20" r="2.3" fill="#9d80c8"/>
<text x="0" y="0" font-size="12.2" transform="translate(665.60,282.80) scale(0.89,1)">d0</text>
<circle cx="649.80" cy="298.33" r="2.3" fill="#5ccaf0"/>
<text x="0" y="0" font-size="12.2" transform="translate(665.60,302.93) scale(0.89,1)">d14</text>
<circle cx="649.80" cy="318.46" r="2.3" fill="#7bd1cb"/>
<text x="0" y="0" font-size="12.2" transform="translate(665.60,323.06) scale(0.89,1)">d28</text>
<circle cx="649.80" cy="338.59" r="2.3" fill="#ee9c7d"/>
<text x="0" y="0" font-size="12.2" transform="translate(665.60,343.19) scale(0.89,1)">d42</text>
<line x1="396.90" y1="366.60" x2="402.40" y2="366.60" stroke="#3a3a3a" stroke-width="1.1"/>
<text x="0" y="0" font-size="11.3" text-anchor="end" transform="translate(395.00,370.50) scale(0.875,1)">25</text>
<line x1="396.90" y1="333.80" x2="402.40" y2="333.80" stroke="#3a3a3a" stroke-width="1.1"/>
<text x="0" y="0" font-size="11.3" text-anchor="end" transform="translate(395.00,337.70) scale(0.875,1)">50</text>
<line x1="396.90" y1="301.00" x2="402.40" y2="301.00" stroke="#3a3a3a" stroke-width="1.1"/>
<text x="0" y="0" font-size="11.3" text-anchor="end" transform="translate(395.00,304.90) scale(0.875,1)">75</text>
<line x1="396.90" y1="268.20" x2="402.40" y2="268.20" stroke="#3a3a3a" stroke-width="1.1"/>
<text x="0" y="0" font-size="11.3" text-anchor="end" transform="translate(395.00,272.10) scale(0.875,1)">100</text>
<text x="0" y="0" font-size="11.3" text-anchor="end" transform="translate(395.00,403.30) scale(0.875,1)">0</text>
<line x1="402.40" y1="268.30" x2="402.40" y2="412.00" stroke="#3a3a3a" stroke-width="1.2"/>
<line x1="401.80" y1="412.00" x2="610.70" y2="412.00" stroke="#3a3a3a" stroke-width="1.1"/>
<line x1="452.60" y1="412.00" x2="452.60" y2="418.00" stroke="#555" stroke-width="1.2"/>
<text x="452.60" y="429.80" font-size="10.4" text-anchor="middle" >Control</text>
<line x1="560.50" y1="412.00" x2="560.50" y2="418.00" stroke="#555" stroke-width="1.2"/>
<text x="560.50" y="429.80" font-size="10.4" text-anchor="middle" >K4V</text>
<rect x="410.75" y="399.40" width="15.00" height="9.18" fill="#d4c8e8"/>
<path d="M411.45,399.40 L411.45,407.88 L425.05,407.88 L425.05,399.40" fill="none" stroke="#30256e" stroke-width="1.25"/>
<circle cx="413.10" cy="407.81" r="2.2" fill="#9d80c8"/>
<circle cx="414.63" cy="407.68" r="2.2" fill="#9d80c8"/>
<circle cx="416.75" cy="407.70" r="2.2" fill="#9d80c8"/>
<circle cx="418.35" cy="408.06" r="2.2" fill="#9d80c8"/>
<circle cx="420.18" cy="407.91" r="2.2" fill="#9d80c8"/>
<circle cx="421.78" cy="407.90" r="2.2" fill="#9d80c8"/>
<circle cx="423.39" cy="407.83" r="2.2" fill="#9d80c8"/>
<circle cx="412.72" cy="409.01" r="2.2" fill="#9d80c8"/>
<circle cx="414.62" cy="408.46" r="2.2" fill="#9d80c8"/>
<circle cx="416.17" cy="408.66" r="2.2" fill="#9d80c8"/>
<circle cx="418.54" cy="408.40" r="2.2" fill="#9d80c8"/>
<circle cx="420.02" cy="409.00" r="2.2" fill="#9d80c8"/>
<circle cx="421.62" cy="409.03" r="2.2" fill="#9d80c8"/>
<circle cx="423.88" cy="409.05" r="2.2" fill="#9d80c8"/>
<rect x="433.85" y="399.40" width="15.00" height="9.18" fill="#ade4f6"/>
<path d="M434.55,399.40 L434.55,407.88 L448.15,407.88 L448.15,399.40" fill="none" stroke="#3147a8" stroke-width="1.25"/>
<circle cx="435.84" cy="408.08" r="2.2" fill="#5ccaf0"/>
<circle cx="437.46" cy="408.37" r="2.2" fill="#5ccaf0"/>
<circle cx="439.74" cy="408.38" r="2.2" fill="#5ccaf0"/>
<circle cx="441.21" cy="407.74" r="2.2" fill="#5ccaf0"/>
<circle cx="442.88" cy="407.73" r="2.2" fill="#5ccaf0"/>
<circle cx="444.66" cy="408.13" r="2.2" fill="#5ccaf0"/>
<circle cx="446.67" cy="408.23" r="2.2" fill="#5ccaf0"/>
<circle cx="436.11" cy="408.66" r="2.2" fill="#5ccaf0"/>
<circle cx="437.55" cy="408.66" r="2.2" fill="#5ccaf0"/>
<circle cx="439.27" cy="408.91" r="2.2" fill="#5ccaf0"/>
<circle cx="441.16" cy="408.50" r="2.2" fill="#5ccaf0"/>
<circle cx="443.38" cy="408.74" r="2.2" fill="#5ccaf0"/>
<circle cx="445.22" cy="409.17" r="2.2" fill="#5ccaf0"/>
<circle cx="446.85" cy="408.58" r="2.2" fill="#5ccaf0"/>
<rect x="456.95" y="399.40" width="15.00" height="9.18" fill="#bde8e4"/>
<path d="M457.65,399.40 L457.65,407.88 L471.25,407.88 L471.25,399.40" fill="none" stroke="#267474" stroke-width="1.25"/>
<circle cx="458.79" cy="408.05" r="2.2" fill="#7bd1cb"/>
<circle cx="461.14" cy="407.85" r="2.2" fill="#7bd1cb"/>
<circle cx="462.68" cy="407.88" r="2.2" fill="#7bd1cb"/>
<circle cx="464.59" cy="408.13" r="2.2" fill="#7bd1cb"/>
<circle cx="466.31" cy="408.36" r="2.2" fill="#7bd1cb"/>
<circle cx="468.17" cy="407.85" r="2.2" fill="#7bd1cb"/>
<circle cx="469.78" cy="408.09" r="2.2" fill="#7bd1cb"/>
<circle cx="459.17" cy="408.56" r="2.2" fill="#7bd1cb"/>
<circle cx="461.04" cy="408.74" r="2.2" fill="#7bd1cb"/>
<circle cx="462.81" cy="408.46" r="2.2" fill="#7bd1cb"/>
<circle cx="464.34" cy="408.40" r="2.2" fill="#7bd1cb"/>
<circle cx="466.20" cy="408.59" r="2.2" fill="#7bd1cb"/>
<circle cx="467.96" cy="408.56" r="2.2" fill="#7bd1cb"/>
<circle cx="470.06" cy="408.90" r="2.2" fill="#7bd1cb"/>
<rect x="480.05" y="399.40" width="15.00" height="9.18" fill="#f3cdbf"/>
<path d="M480.75,399.40 L480.75,407.88 L494.35,407.88 L494.35,399.40" fill="none" stroke="#e8502a" stroke-width="1.25"/>
<circle cx="482.02" cy="407.98" r="2.2" fill="#ee9c7d"/>
<circle cx="483.99" cy="407.95" r="2.2" fill="#ee9c7d"/>
<circle cx="485.80" cy="407.97" r="2.2" fill="#ee9c7d"/>
<circle cx="487.56" cy="407.74" r="2.2" fill="#ee9c7d"/>
<circle cx="489.12" cy="407.78" r="2.2" fill="#ee9c7d"/>
<circle cx="491.32" cy="407.60" r="2.2" fill="#ee9c7d"/>
<circle cx="492.86" cy="407.92" r="2.2" fill="#ee9c7d"/>
<circle cx="482.18" cy="408.73" r="2.2" fill="#ee9c7d"/>
<circle cx="484.16" cy="409.14" r="2.2" fill="#ee9c7d"/>
<circle cx="485.79" cy="408.55" r="2.2" fill="#ee9c7d"/>
<circle cx="487.78" cy="409.07" r="2.2" fill="#ee9c7d"/>
<circle cx="489.33" cy="409.03" r="2.2" fill="#ee9c7d"/>
<circle cx="491.38" cy="409.15" r="2.2" fill="#ee9c7d"/>
<circle cx="492.79" cy="408.56" r="2.2" fill="#ee9c7d"/>
<rect x="518.40" y="399.40" width="15.00" height="9.18" fill="#d4c8e8"/>
<path d="M519.10,399.40 L519.10,407.88 L532.70,407.88 L532.70,399.40" fill="none" stroke="#30256e" stroke-width="1.25"/>
<circle cx="520.36" cy="408.01" r="2.2" fill="#9d80c8"/>
<circle cx="522.42" cy="408.35" r="2.2" fill="#9d80c8"/>
<circle cx="524.02" cy="408.00" r="2.2" fill="#9d80c8"/>
<circle cx="525.82" cy="408.02" r="2.2" fill="#9d80c8"/>
<circle cx="527.90" cy="408.38" r="2.2" fill="#9d80c8"/>
<circle cx="529.76" cy="408.33" r="2.2" fill="#9d80c8"/>
<circle cx="531.03" cy="407.77" r="2.2" fill="#9d80c8"/>
<circle cx="520.77" cy="408.84" r="2.2" fill="#9d80c8"/>
<circle cx="522.09" cy="408.88" r="2.2" fill="#9d80c8"/>
<circle cx="524.36" cy="408.57" r="2.2" fill="#9d80c8"/>
<circle cx="525.81" cy="408.52" r="2.2" fill="#9d80c8"/>
<circle cx="527.99" cy="408.55" r="2.2" fill="#9d80c8"/>
<circle cx="529.36" cy="408.45" r="2.2" fill="#9d80c8"/>
<circle cx="531.06" cy="408.39" r="2.2" fill="#9d80c8"/>
<rect x="541.50" y="392.32" width="15.00" height="7.08" fill="#ade4f6"/>
<path d="M542.20,399.40 L542.20,393.02 L555.80,393.02 L555.80,399.40" fill="none" stroke="#3147a8" stroke-width="1.25"/>
<line x1="549.00" y1="378.93" x2="549.00" y2="404.12" stroke="#3a3a3a" stroke-width="0.95"/>
<line x1="544.80" y1="378.93" x2="553.20" y2="378.93" stroke="#2a2a2a" stroke-width="1.0"/>
<line x1="544.80" y1="404.12" x2="553.20" y2="404.12" stroke="#2a2a2a" stroke-width="1.0"/>
<circle cx="549.00" cy="370.27" r="2.2" fill="#5ccaf0"/>
<circle cx="543.30" cy="382.48" r="2.2" fill="#5ccaf0"/>
<circle cx="549.00" cy="382.48" r="2.2" fill="#5ccaf0"/>
<circle cx="554.80" cy="379.46" r="2.2" fill="#5ccaf0"/>
<circle cx="554.80" cy="391.00" r="2.2" fill="#5ccaf0"/>
<circle cx="543.30" cy="393.63" r="2.2" fill="#5ccaf0"/>
<circle cx="549.00" cy="397.04" r="2.2" fill="#5ccaf0"/>
<circle cx="543.30" cy="407.40" r="2.2" fill="#5ccaf0"/>
<circle cx="549.00" cy="405.83" r="2.2" fill="#5ccaf0"/>
<circle cx="554.80" cy="406.35" r="2.2" fill="#5ccaf0"/>
<rect x="564.60" y="378.67" width="15.00" height="20.73" fill="#bde8e4"/>
<path d="M565.30,399.40 L565.30,379.37 L578.90,379.37 L578.90,399.40" fill="none" stroke="#267474" stroke-width="1.25"/>
<line x1="572.10" y1="363.58" x2="572.10" y2="393.23" stroke="#3a3a3a" stroke-width="0.95"/>
<line x1="567.90" y1="363.58" x2="576.30" y2="363.58" stroke="#2a2a2a" stroke-width="1.0"/>
<line x1="567.90" y1="393.23" x2="576.30" y2="393.23" stroke="#2a2a2a" stroke-width="1.0"/>
<circle cx="572.10" cy="343.77" r="2.2" fill="#7bd1cb"/>
<circle cx="572.10" cy="363.58" r="2.2" fill="#7bd1cb"/>
<circle cx="572.10" cy="373.95" r="2.2" fill="#7bd1cb"/>
<circle cx="569.10" cy="378.93" r="2.2" fill="#7bd1cb"/>
<circle cx="567.10" cy="382.87" r="2.2" fill="#7bd1cb"/>
<circle cx="577.10" cy="384.44" r="2.2" fill="#7bd1cb"/>
<circle cx="571.10" cy="387.46" r="2.2" fill="#7bd1cb"/>
<circle cx="574.10" cy="389.43" r="2.2" fill="#7bd1cb"/>
<circle cx="572.10" cy="395.07" r="2.2" fill="#7bd1cb"/>
<rect x="587.70" y="367.78" width="15.00" height="31.62" fill="#f3cdbf"/>
<path d="M588.40,399.40 L588.40,368.48 L602.00,368.48 L602.00,399.40" fill="none" stroke="#e8502a" stroke-width="1.25"/>
<line x1="595.20" y1="349.15" x2="595.20" y2="385.49" stroke="#3a3a3a" stroke-width="0.95"/>
<line x1="591.00" y1="349.15" x2="599.40" y2="349.15" stroke="#2a2a2a" stroke-width="1.0"/>
<line x1="591.00" y1="385.49" x2="599.40" y2="385.49" stroke="#2a2a2a" stroke-width="1.0"/>
<circle cx="595.20" cy="332.88" r="2.2" fill="#ee9c7d"/>
<circle cx="595.20" cy="350.86" r="2.2" fill="#ee9c7d"/>
<circle cx="589.50" cy="359.91" r="2.2" fill="#ee9c7d"/>
<circle cx="600.90" cy="357.42" r="2.2" fill="#ee9c7d"/>
<circle cx="600.90" cy="363.84" r="2.2" fill="#ee9c7d"/>
<circle cx="595.20" cy="369.75" r="2.2" fill="#ee9c7d"/>
<circle cx="589.50" cy="376.44" r="2.2" fill="#ee9c7d"/>
<circle cx="600.90" cy="375.26" r="2.2" fill="#ee9c7d"/>
<circle cx="595.20" cy="387.99" r="2.2" fill="#ee9c7d"/>
<circle cx="595.20" cy="392.97" r="2.2" fill="#ee9c7d"/>
<line x1="396.90" y1="399.40" x2="610.70" y2="399.40" stroke="#333" stroke-width="1.0"/>
<text x="0" y="0" font-size="16" style="stroke-width:0.05px" transform="translate(1.20,486.70) scale(0.76,1)">E</text>
<text x="81.20" y="483.20" font-size="11.15" text-anchor="start" >669448 (KL102) IgG Titers</text>
<text x="0" y="0" font-size="10.2" text-anchor="middle" transform="translate(9.20,584.00) rotate(-90) scale(0.93,1)">ng/mL IgG</text>
<circle cx="296.80" cy="521.40" r="2.3" fill="#9d80c8"/>
<text x="0" y="0" font-size="12.2" transform="translate(312.80,526.00) scale(0.89,1)">d0</text>
<circle cx="296.80" cy="541.47" r="2.3" fill="#5ccaf0"/>
<text x="0" y="0" font-size="12.2" transform="translate(312.80,546.07) scale(0.89,1)">d14</text>
<circle cx="296.80" cy="561.54" r="2.3" fill="#7bd1cb"/>
<text x="0" y="0" font-size="12.2" transform="translate(312.80,566.14) scale(0.89,1)">d28</text>
<circle cx="296.80" cy="581.61" r="2.3" fill="#ee9c7d"/>
<text x="0" y="0" font-size="12.2" transform="translate(312.80,586.21) scale(0.89,1)">d42</text>
<line x1="44.30" y1="614.03" x2="49.80" y2="614.03" stroke="#777" stroke-width="1.1"/>
<text x="0" y="0" font-size="11.3" text-anchor="end" transform="translate(42.40,617.93) scale(0.875,1)">25</text>
<line x1="44.30" y1="579.85" x2="49.80" y2="579.85" stroke="#777" stroke-width="1.1"/>
<text x="0" y="0" font-size="11.3" text-anchor="end" transform="translate(42.40,583.75) scale(0.875,1)">50</text>
<line x1="44.30" y1="545.68" x2="49.80" y2="545.68" stroke="#777" stroke-width="1.1"/>
<text x="0" y="0" font-size="11.3" text-anchor="end" transform="translate(42.40,549.58) scale(0.875,1)">75</text>
<line x1="44.30" y1="511.50" x2="49.80" y2="511.50" stroke="#777" stroke-width="1.1"/>
<text x="0" y="0" font-size="11.3" text-anchor="end" transform="translate(42.40,515.40) scale(0.875,1)">100</text>
<text x="0" y="0" font-size="11.3" text-anchor="end" transform="translate(42.40,652.10) scale(0.875,1)">0</text>
<line x1="49.80" y1="511.50" x2="49.80" y2="655.20" stroke="#a3a3a3" stroke-width="1.8"/>
<line x1="48.90" y1="655.20" x2="257.70" y2="655.20" stroke="#4a4a4a" stroke-width="1.3"/>
<line x1="99.70" y1="655.20" x2="99.70" y2="661.20" stroke="#555" stroke-width="1.2"/>
<text x="99.70" y="673.00" font-size="10.4" text-anchor="middle" >Control</text>
<line x1="207.60" y1="655.20" x2="207.60" y2="661.20" stroke="#555" stroke-width="1.2"/>
<text x="207.60" y="673.00" font-size="10.4" text-anchor="middle" >K4V</text>
<circle cx="59.57" cy="648.00" r="2.2" fill="#9d80c8"/>
<circle cx="61.36" cy="647.77" r="2.2" fill="#9d80c8"/>
<circle cx="62.86" cy="648.05" r="2.2" fill="#9d80c8"/>
<circle cx="64.26" cy="647.79" r="2.2" fill="#9d80c8"/>
<circle cx="66.00" cy="648.34" r="2.2" fill="#9d80c8"/>
<circle cx="67.19" cy="648.59" r="2.2" fill="#9d80c8"/>
<circle cx="68.97" cy="648.72" r="2.2" fill="#9d80c8"/>
<circle cx="70.46" cy="648.20" r="2.2" fill="#9d80c8"/>
<circle cx="59.96" cy="646.61" r="2.2" fill="#9d80c8"/>
<circle cx="61.45" cy="646.89" r="2.2" fill="#9d80c8"/>
<circle cx="62.94" cy="646.97" r="2.2" fill="#9d80c8"/>
<circle cx="64.40" cy="647.19" r="2.2" fill="#9d80c8"/>
<circle cx="65.81" cy="646.67" r="2.2" fill="#9d80c8"/>
<circle cx="67.15" cy="647.37" r="2.2" fill="#9d80c8"/>
<circle cx="68.79" cy="647.55" r="2.2" fill="#9d80c8"/>
<circle cx="70.10" cy="647.21" r="2.2" fill="#9d80c8"/>
<circle cx="82.60" cy="648.35" r="2.2" fill="#5ccaf0"/>
<circle cx="84.47" cy="648.35" r="2.2" fill="#5ccaf0"/>
<circle cx="86.15" cy="647.88" r="2.2" fill="#5ccaf0"/>
<circle cx="87.54" cy="648.14" r="2.2" fill="#5ccaf0"/>
<circle cx="89.10" cy="648.30" r="2.2" fill="#5ccaf0"/>
<circle cx="90.48" cy="648.21" r="2.2" fill="#5ccaf0"/>
<circle cx="91.93" cy="647.79" r="2.2" fill="#5ccaf0"/>
<circle cx="93.28" cy="647.94" r="2.2" fill="#5ccaf0"/>
<circle cx="83.01" cy="647.21" r="2.2" fill="#5ccaf0"/>
<circle cx="84.66" cy="646.95" r="2.2" fill="#5ccaf0"/>
<circle cx="85.90" cy="647.06" r="2.2" fill="#5ccaf0"/>
<circle cx="87.43" cy="646.59" r="2.2" fill="#5ccaf0"/>
<circle cx="88.82" cy="646.75" r="2.2" fill="#5ccaf0"/>
<circle cx="90.59" cy="646.66" r="2.2" fill="#5ccaf0"/>
<circle cx="92.05" cy="646.96" r="2.2" fill="#5ccaf0"/>
<circle cx="93.35" cy="647.00" r="2.2" fill="#5ccaf0"/>
<circle cx="105.90" cy="647.57" r="2.2" fill="#7bd1cb"/>
<circle cx="107.50" cy="647.70" r="2.2" fill="#7bd1cb"/>
<circle cx="109.16" cy="647.58" r="2.2" fill="#7bd1cb"/>
<circle cx="110.60" cy="647.83" r="2.2" fill="#7bd1cb"/>
<circle cx="112.05" cy="648.21" r="2.2" fill="#7bd1cb"/>
<circle cx="113.72" cy="647.98" r="2.2" fill="#7bd1cb"/>
<circle cx="115.08" cy="648.38" r="2.2" fill="#7bd1cb"/>
<circle cx="116.29" cy="648.36" r="2.2" fill="#7bd1cb"/>
<circle cx="106.04" cy="646.32" r="2.2" fill="#7bd1cb"/>
<circle cx="107.26" cy="646.50" r="2.2" fill="#7bd1cb"/>
<circle cx="109.04" cy="646.94" r="2.2" fill="#7bd1cb"/>
<circle cx="110.44" cy="646.67" r="2.2" fill="#7bd1cb"/>
<circle cx="112.18" cy="646.84" r="2.2" fill="#7bd1cb"/>
<circle cx="113.63" cy="646.82" r="2.2" fill="#7bd1cb"/>
<circle cx="115.21" cy="647.58" r="2.2" fill="#7bd1cb"/>
<circle cx="116.47" cy="647.74" r="2.2" fill="#7bd1cb"/>
<circle cx="129.30" cy="647.52" r="2.2" fill="#ee9c7d"/>
<circle cx="130.60" cy="647.79" r="2.2" fill="#ee9c7d"/>
<circle cx="131.85" cy="647.96" r="2.2" fill="#ee9c7d"/>
<circle cx="133.40" cy="648.30" r="2.2" fill="#ee9c7d"/>
<circle cx="134.90" cy="648.53" r="2.2" fill="#ee9c7d"/>
<circle cx="136.65" cy="648.64" r="2.2" fill="#ee9c7d"/>
<circle cx="138.21" cy="648.64" r="2.2" fill="#ee9c7d"/>
<circle cx="139.89" cy="648.61" r="2.2" fill="#ee9c7d"/>
<circle cx="129.21" cy="646.21" r="2.2" fill="#ee9c7d"/>
<circle cx="130.72" cy="646.18" r="2.2" fill="#ee9c7d"/>
<circle cx="132.38" cy="646.90" r="2.2" fill="#ee9c7d"/>
<circle cx="133.47" cy="646.98" r="2.2" fill="#ee9c7d"/>
<circle cx="134.93" cy="646.81" r="2.2" fill="#ee9c7d"/>
<circle cx="136.87" cy="647.48" r="2.2" fill="#ee9c7d"/>
<circle cx="137.94" cy="647.05" r="2.2" fill="#ee9c7d"/>
<circle cx="139.41" cy="647.81" r="2.2" fill="#ee9c7d"/>
<circle cx="167.22" cy="647.70" r="2.2" fill="#9d80c8"/>
<circle cx="169.15" cy="646.67" r="2.2" fill="#9d80c8"/>
<circle cx="170.28" cy="647.79" r="2.2" fill="#9d80c8"/>
<circle cx="171.54" cy="647.38" r="2.2" fill="#9d80c8"/>
<circle cx="171.86" cy="647.70" r="2.2" fill="#9d80c8"/>
<circle cx="173.00" cy="645.74" r="2.2" fill="#9d80c8"/>
<circle cx="175.25" cy="648.19" r="2.2" fill="#9d80c8"/>
<circle cx="175.67" cy="646.42" r="2.2" fill="#9d80c8"/>
<circle cx="176.72" cy="648.84" r="2.2" fill="#9d80c8"/>
<circle cx="177.88" cy="648.14" r="2.2" fill="#9d80c8"/>
<circle cx="172.95" cy="642.46" r="2.2" fill="#9d80c8"/>
<circle cx="170.95" cy="644.78" r="2.2" fill="#9d80c8"/>
<rect x="188.55" y="641.37" width="15.00" height="6.84" fill="#ade4f6"/>
<path d="M189.25,648.20 L189.25,642.07 L202.85,642.07 L202.85,648.20" fill="none" stroke="#3147a8" stroke-width="1.25"/>
<line x1="196.05" y1="632.34" x2="196.05" y2="648.20" stroke="#3a3a3a" stroke-width="0.95"/>
<line x1="191.85" y1="632.34" x2="200.25" y2="632.34" stroke="#2a2a2a" stroke-width="1.0"/>
<line x1="191.85" y1="648.20" x2="200.25" y2="648.20" stroke="#2a2a2a" stroke-width="1.0"/>
<circle cx="196.05" cy="619.49" r="2.2" fill="#5ccaf0"/>
<circle cx="196.05" cy="632.34" r="2.2" fill="#5ccaf0"/>
<circle cx="198.05" cy="639.31" r="2.2" fill="#5ccaf0"/>
<circle cx="192.05" cy="644.78" r="2.2" fill="#5ccaf0"/>
<circle cx="196.05" cy="644.78" r="2.2" fill="#5ccaf0"/>
<circle cx="200.05" cy="644.78" r="2.2" fill="#5ccaf0"/>
<circle cx="191.05" cy="647.11" r="2.2" fill="#5ccaf0"/>
<circle cx="194.55" cy="647.11" r="2.2" fill="#5ccaf0"/>
<circle cx="198.55" cy="647.11" r="2.2" fill="#5ccaf0"/>
<circle cx="201.05" cy="646.15" r="2.2" fill="#5ccaf0"/>
<circle cx="193.55" cy="645.74" r="2.2" fill="#5ccaf0"/>
<circle cx="197.05" cy="646.15" r="2.2" fill="#5ccaf0"/>
<rect x="211.65" y="628.93" width="15.00" height="19.27" fill="#bde8e4"/>
<path d="M212.35,648.20 L212.35,629.63 L225.95,629.63 L225.95,648.20" fill="none" stroke="#267474" stroke-width="1.25"/>
<line x1="219.15" y1="619.49" x2="219.15" y2="637.26" stroke="#3a3a3a" stroke-width="0.95"/>
<line x1="214.95" y1="619.49" x2="223.35" y2="619.49" stroke="#2a2a2a" stroke-width="1.0"/>
<line x1="214.95" y1="637.26" x2="223.35" y2="637.26" stroke="#2a2a2a" stroke-width="1.0"/>
<circle cx="219.15" cy="611.56" r="2.2" fill="#7bd1cb"/>
<circle cx="219.15" cy="621.54" r="2.2" fill="#7bd1cb"/>
<circle cx="213.35" cy="625.37" r="2.2" fill="#7bd1cb"/>
<circle cx="218.15" cy="627.42" r="2.2" fill="#7bd1cb"/>
<circle cx="224.15" cy="626.74" r="2.2" fill="#7bd1cb"/>
<circle cx="221.65" cy="625.64" r="2.2" fill="#7bd1cb"/>
<circle cx="216.15" cy="628.38" r="2.2" fill="#7bd1cb"/>
<circle cx="217.15" cy="642.32" r="2.2" fill="#7bd1cb"/>
<circle cx="220.15" cy="642.32" r="2.2" fill="#7bd1cb"/>
<rect x="234.75" y="609.92" width="15.00" height="38.28" fill="#f3cdbf"/>
<path d="M235.45,648.20 L235.45,610.62 L249.05,610.62 L249.05,648.20" fill="none" stroke="#e8502a" stroke-width="1.25"/>
<line x1="242.25" y1="586.69" x2="242.25" y2="633.57" stroke="#3a3a3a" stroke-width="0.95"/>
<line x1="238.05" y1="586.69" x2="246.45" y2="586.69" stroke="#2a2a2a" stroke-width="1.0"/>
<line x1="238.05" y1="633.57" x2="246.45" y2="633.57" stroke="#2a2a2a" stroke-width="1.0"/>
<circle cx="242.25" cy="553.47" r="2.2" fill="#ee9c7d"/>
<circle cx="242.25" cy="595.57" r="2.2" fill="#ee9c7d"/>
<circle cx="242.25" cy="603.64" r="2.2" fill="#ee9c7d"/>
<circle cx="242.25" cy="610.06" r="2.2" fill="#ee9c7d"/>
<circle cx="236.65" cy="616.49" r="2.2" fill="#ee9c7d"/>
<circle cx="247.65" cy="615.53" r="2.2" fill="#ee9c7d"/>
<circle cx="240.25" cy="619.49" r="2.2" fill="#ee9c7d"/>
<circle cx="244.65" cy="619.49" r="2.2" fill="#ee9c7d"/>
<circle cx="242.25" cy="627.42" r="2.2" fill="#ee9c7d"/>
<circle cx="242.25" cy="639.31" r="2.2" fill="#ee9c7d"/>
<line x1="44.30" y1="648.20" x2="257.70" y2="648.20" stroke="#333" stroke-width="1.0"/>
<text x="0" y="0" font-size="16" style="stroke-width:0.05px" transform="translate(356.00,486.70) scale(0.88,1)">F</text>
<text x="429.80" y="483.20" font-size="11.15" text-anchor="start" >702325 (KL107) IgG Titers</text>
<text x="0" y="0" font-size="10.2" text-anchor="middle" transform="translate(357.20,583.50) rotate(-90) scale(0.93,1)">ng/mL IgG</text>
<circle cx="645.50" cy="521.40" r="2.3" fill="#9d80c8"/>
<text x="0" y="0" font-size="12.2" transform="translate(661.50,526.00) scale(0.89,1)">d0</text>
<circle cx="645.50" cy="541.50" r="2.3" fill="#5ccaf0"/>
<text x="0" y="0" font-size="12.2" transform="translate(661.50,546.10) scale(0.89,1)">d14</text>
<circle cx="645.50" cy="561.60" r="2.3" fill="#7bd1cb"/>
<text x="0" y="0" font-size="12.2" transform="translate(661.50,566.20) scale(0.89,1)">d28</text>
<circle cx="645.50" cy="581.70" r="2.3" fill="#ee9c7d"/>
<text x="0" y="0" font-size="12.2" transform="translate(661.50,586.30) scale(0.89,1)">d42</text>
<line x1="392.90" y1="609.60" x2="398.40" y2="609.60" stroke="#3a3a3a" stroke-width="1.1"/>
<text x="0" y="0" font-size="11.3" text-anchor="end" transform="translate(391.00,613.50) scale(0.875,1)">25</text>
<line x1="392.90" y1="576.90" x2="398.40" y2="576.90" stroke="#3a3a3a" stroke-width="1.1"/>
<text x="0" y="0" font-size="11.3" text-anchor="end" transform="translate(391.00,580.80) scale(0.875,1)">50</text>
<line x1="392.90" y1="544.20" x2="398.40" y2="544.20" stroke="#3a3a3a" stroke-width="1.1"/>
<text x="0" y="0" font-size="11.3" text-anchor="end" transform="translate(391.00,548.10) scale(0.875,1)">75</text>
<line x1="392.90" y1="511.50" x2="398.40" y2="511.50" stroke="#3a3a3a" stroke-width="1.1"/>
<text x="0" y="0" font-size="11.3" text-anchor="end" transform="translate(391.00,515.40) scale(0.875,1)">100</text>
<text x="0" y="0" font-size="11.3" text-anchor="end" transform="translate(391.00,646.20) scale(0.875,1)">0</text>
<line x1="398.40" y1="511.50" x2="398.40" y2="655.00" stroke="#3a3a3a" stroke-width="1.2"/>
<line x1="397.80" y1="655.00" x2="606.90" y2="655.00" stroke="#3a3a3a" stroke-width="1.1"/>
<line x1="448.30" y1="655.00" x2="448.30" y2="661.00" stroke="#555" stroke-width="1.2"/>
<text x="448.30" y="672.80" font-size="10.4" text-anchor="middle" >Control</text>
<line x1="556.60" y1="655.00" x2="556.60" y2="661.00" stroke="#555" stroke-width="1.2"/>
<text x="556.60" y="672.80" font-size="10.4" text-anchor="middle" >K4V</text>
<rect x="406.60" y="642.30" width="15.00" height="6.74" fill="#d4c8e8"/>
<path d="M407.30,642.30 L407.30,648.34 L420.90,648.34 L420.90,642.30" fill="none" stroke="#30256e" stroke-width="1.25"/>
<circle cx="408.96" cy="647.74" r="2.2" fill="#9d80c8"/>
<circle cx="410.69" cy="647.63" r="2.2" fill="#9d80c8"/>
<circle cx="412.29" cy="647.65" r="2.2" fill="#9d80c8"/>
<circle cx="414.13" cy="647.49" r="2.2" fill="#9d80c8"/>
<circle cx="415.85" cy="647.68" r="2.2" fill="#9d80c8"/>
<circle cx="417.42" cy="648.08" r="2.2" fill="#9d80c8"/>
<circle cx="419.75" cy="647.55" r="2.2" fill="#9d80c8"/>
<circle cx="408.78" cy="648.66" r="2.2" fill="#9d80c8"/>
<circle cx="410.46" cy="648.71" r="2.2" fill="#9d80c8"/>
<circle cx="412.40" cy="648.45" r="2.2" fill="#9d80c8"/>
<circle cx="414.02" cy="648.64" r="2.2" fill="#9d80c8"/>
<circle cx="416.20" cy="648.98" r="2.2" fill="#9d80c8"/>
<circle cx="417.87" cy="648.60" r="2.2" fill="#9d80c8"/>
<circle cx="419.75" cy="649.02" r="2.2" fill="#9d80c8"/>
<circle cx="408.93" cy="649.19" r="2.2" fill="#9d80c8"/>
<circle cx="410.45" cy="649.22" r="2.2" fill="#9d80c8"/>
<circle cx="412.27" cy="649.72" r="2.2" fill="#9d80c8"/>
<circle cx="414.10" cy="649.30" r="2.2" fill="#9d80c8"/>
<circle cx="415.70" cy="649.15" r="2.2" fill="#9d80c8"/>
<circle cx="417.89" cy="649.80" r="2.2" fill="#9d80c8"/>
<circle cx="419.73" cy="649.04" r="2.2" fill="#9d80c8"/>
<rect x="429.70" y="642.30" width="15.00" height="6.74" fill="#ade4f6"/>
<path d="M430.40,642.30 L430.40,648.34 L444.00,648.34 L444.00,642.30" fill="none" stroke="#3147a8" stroke-width="1.25"/>
<circle cx="432.00" cy="647.60" r="2.2" fill="#5ccaf0"/>
<circle cx="433.87" cy="647.82" r="2.2" fill="#5ccaf0"/>
<circle cx="435.34" cy="647.92" r="2.2" fill="#5ccaf0"/>
<circle cx="437.00" cy="647.58" r="2.2" fill="#5ccaf0"/>
<circle cx="438.95" cy="647.61" r="2.2" fill="#5ccaf0"/>
<circle cx="440.90" cy="647.76" r="2.2" fill="#5ccaf0"/>
<circle cx="442.53" cy="647.65" r="2.2" fill="#5ccaf0"/>
<circle cx="431.63" cy="648.81" r="2.2" fill="#5ccaf0"/>
<circle cx="433.84" cy="648.51" r="2.2" fill="#5ccaf0"/>
<circle cx="435.58" cy="648.48" r="2.2" fill="#5ccaf0"/>
<circle cx="437.36" cy="648.42" r="2.2" fill="#5ccaf0"/>
<circle cx="439.04" cy="648.56" r="2.2" fill="#5ccaf0"/>
<circle cx="441.02" cy="648.84" r="2.2" fill="#5ccaf0"/>
<circle cx="442.36" cy="648.31" r="2.2" fill="#5ccaf0"/>
<circle cx="431.78" cy="649.21" r="2.2" fill="#5ccaf0"/>
<circle cx="433.44" cy="649.80" r="2.2" fill="#5ccaf0"/>
<circle cx="435.66" cy="649.05" r="2.2" fill="#5ccaf0"/>
<circle cx="436.91" cy="649.54" r="2.2" fill="#5ccaf0"/>
<circle cx="439.27" cy="649.75" r="2.2" fill="#5ccaf0"/>
<circle cx="440.92" cy="649.63" r="2.2" fill="#5ccaf0"/>
<circle cx="442.59" cy="649.43" r="2.2" fill="#5ccaf0"/>
<rect x="452.80" y="642.30" width="15.00" height="6.74" fill="#bde8e4"/>
<path d="M453.50,642.30 L453.50,648.34 L467.10,648.34 L467.10,642.30" fill="none" stroke="#267474" stroke-width="1.25"/>
<circle cx="454.89" cy="647.96" r="2.2" fill="#7bd1cb"/>
<circle cx="456.77" cy="647.99" r="2.2" fill="#7bd1cb"/>
<circle cx="458.74" cy="648.03" r="2.2" fill="#7bd1cb"/>
<circle cx="460.10" cy="647.60" r="2.2" fill="#7bd1cb"/>
<circle cx="462.07" cy="647.74" r="2.2" fill="#7bd1cb"/>
<circle cx="464.18" cy="648.01" r="2.2" fill="#7bd1cb"/>
<circle cx="465.68" cy="647.71" r="2.2" fill="#7bd1cb"/>
<circle cx="454.74" cy="648.72" r="2.2" fill="#7bd1cb"/>
<circle cx="456.95" cy="648.37" r="2.2" fill="#7bd1cb"/>
<circle cx="458.47" cy="648.51" r="2.2" fill="#7bd1cb"/>
<circle cx="460.37" cy="648.44" r="2.2" fill="#7bd1cb"/>
<circle cx="461.84" cy="648.78" r="2.2" fill="#7bd1cb"/>
<circle cx="463.78" cy="648.75" r="2.2" fill="#7bd1cb"/>
<circle cx="465.94" cy="648.70" r="2.2" fill="#7bd1cb"/>
<circle cx="455.15" cy="649.68" r="2.2" fill="#7bd1cb"/>
<circle cx="456.44" cy="649.23" r="2.2" fill="#7bd1cb"/>
<circle cx="458.60" cy="649.42" r="2.2" fill="#7bd1cb"/>
<circle cx="460.00" cy="649.70" r="2.2" fill="#7bd1cb"/>
<circle cx="462.19" cy="649.39" r="2.2" fill="#7bd1cb"/>
<circle cx="463.91" cy="649.17" r="2.2" fill="#7bd1cb"/>
<circle cx="465.73" cy="649.15" r="2.2" fill="#7bd1cb"/>
<rect x="475.90" y="642.30" width="15.00" height="6.74" fill="#f3cdbf"/>
<path d="M476.60,642.30 L476.60,648.34 L490.20,648.34 L490.20,642.30" fill="none" stroke="#e8502a" stroke-width="1.25"/>
<circle cx="477.72" cy="648.12" r="2.2" fill="#ee9c7d"/>
<circle cx="479.93" cy="647.44" r="2.2" fill="#ee9c7d"/>
<circle cx="481.63" cy="647.62" r="2.2" fill="#ee9c7d"/>
<circle cx="483.63" cy="648.11" r="2.2" fill="#ee9c7d"/>
<circle cx="485.08" cy="647.91" r="2.2" fill="#ee9c7d"/>
<circle cx="487.00" cy="647.65" r="2.2" fill="#ee9c7d"/>
<circle cx="488.76" cy="647.74" r="2.2" fill="#ee9c7d"/>
<circle cx="477.98" cy="649.00" r="2.2" fill="#ee9c7d"/>
<circle cx="479.94" cy="648.26" r="2.2" fill="#ee9c7d"/>
<circle cx="481.51" cy="649.01" r="2.2" fill="#ee9c7d"/>
<circle cx="483.56" cy="648.72" r="2.2" fill="#ee9c7d"/>
<circle cx="485.29" cy="648.78" r="2.2" fill="#ee9c7d"/>
<circle cx="486.80" cy="648.56" r="2.2" fill="#ee9c7d"/>
<circle cx="488.67" cy="648.39" r="2.2" fill="#ee9c7d"/>
<circle cx="478.11" cy="649.06" r="2.2" fill="#ee9c7d"/>
<circle cx="479.61" cy="649.61" r="2.2" fill="#ee9c7d"/>
<circle cx="481.84" cy="649.28" r="2.2" fill="#ee9c7d"/>
<circle cx="483.61" cy="649.71" r="2.2" fill="#ee9c7d"/>
<circle cx="484.99" cy="649.77" r="2.2" fill="#ee9c7d"/>
<circle cx="486.80" cy="649.42" r="2.2" fill="#ee9c7d"/>
<circle cx="488.55" cy="649.11" r="2.2" fill="#ee9c7d"/>
<rect x="514.45" y="642.30" width="15.00" height="6.74" fill="#d4c8e8"/>
<path d="M515.15,642.30 L515.15,648.34 L528.75,648.34 L528.75,642.30" fill="none" stroke="#30256e" stroke-width="1.25"/>
<circle cx="516.56" cy="647.58" r="2.2" fill="#9d80c8"/>
<circle cx="518.62" cy="647.94" r="2.2" fill="#9d80c8"/>
<circle cx="520.20" cy="648.18" r="2.2" fill="#9d80c8"/>
<circle cx="521.70" cy="648.06" r="2.2" fill="#9d80c8"/>
<circle cx="523.58" cy="647.63" r="2.2" fill="#9d80c8"/>
<circle cx="525.44" cy="648.02" r="2.2" fill="#9d80c8"/>
<circle cx="527.61" cy="647.99" r="2.2" fill="#9d80c8"/>
<circle cx="516.44" cy="648.33" r="2.2" fill="#9d80c8"/>
<circle cx="518.22" cy="648.41" r="2.2" fill="#9d80c8"/>
<circle cx="520.15" cy="648.64" r="2.2" fill="#9d80c8"/>
<circle cx="521.72" cy="648.40" r="2.2" fill="#9d80c8"/>
<circle cx="523.98" cy="648.80" r="2.2" fill="#9d80c8"/>
<circle cx="525.31" cy="648.93" r="2.2" fill="#9d80c8"/>
<circle cx="527.32" cy="648.54" r="2.2" fill="#9d80c8"/>
<circle cx="516.73" cy="649.59" r="2.2" fill="#9d80c8"/>
<circle cx="518.31" cy="649.35" r="2.2" fill="#9d80c8"/>
<circle cx="520.18" cy="649.71" r="2.2" fill="#9d80c8"/>
<circle cx="522.07" cy="649.11" r="2.2" fill="#9d80c8"/>
<circle cx="523.47" cy="649.32" r="2.2" fill="#9d80c8"/>
<circle cx="525.42" cy="649.66" r="2.2" fill="#9d80c8"/>
<circle cx="527.41" cy="649.15" r="2.2" fill="#9d80c8"/>
<rect x="537.55" y="640.08" width="15.00" height="2.22" fill="#ade4f6"/>
<path d="M538.25,642.30 L538.25,640.78 L551.85,640.78 L551.85,642.30" fill="none" stroke="#3147a8" stroke-width="1.25"/>
<line x1="545.05" y1="619.54" x2="545.05" y2="655.25" stroke="#3a3a3a" stroke-width="0.95"/>
<line x1="540.85" y1="619.54" x2="549.25" y2="619.54" stroke="#2a2a2a" stroke-width="1.0"/>
<line x1="540.85" y1="655.25" x2="549.25" y2="655.25" stroke="#2a2a2a" stroke-width="1.0"/>
<circle cx="545.05" cy="583.70" r="2.2" fill="#5ccaf0"/>
<circle cx="543.35" cy="637.07" r="2.2" fill="#5ccaf0"/>
<circle cx="541.75" cy="647.27" r="2.2" fill="#5ccaf0"/>
<circle cx="538.75" cy="647.27" r="2.2" fill="#5ccaf0"/>
<circle cx="544.75" cy="647.27" r="2.2" fill="#5ccaf0"/>
<circle cx="550.75" cy="647.27" r="2.2" fill="#5ccaf0"/>
<circle cx="547.55" cy="647.27" r="2.2" fill="#5ccaf0"/>
<rect x="560.65" y="633.41" width="15.00" height="8.89" fill="#bde8e4"/>
<path d="M561.35,642.30 L561.35,634.11 L574.95,634.11 L574.95,642.30" fill="none" stroke="#267474" stroke-width="1.25"/>
<line x1="568.15" y1="605.02" x2="568.15" y2="655.25" stroke="#3a3a3a" stroke-width="0.95"/>
<line x1="563.95" y1="605.02" x2="572.35" y2="605.02" stroke="#2a2a2a" stroke-width="1.0"/>
<line x1="563.95" y1="655.25" x2="572.35" y2="655.25" stroke="#2a2a2a" stroke-width="1.0"/>
<circle cx="568.15" cy="553.49" r="2.2" fill="#7bd1cb"/>
<circle cx="568.15" cy="631.44" r="2.2" fill="#7bd1cb"/>
<circle cx="568.15" cy="637.85" r="2.2" fill="#7bd1cb"/>
<circle cx="562.75" cy="645.31" r="2.2" fill="#7bd1cb"/>
<circle cx="573.65" cy="648.32" r="2.2" fill="#7bd1cb"/>
<circle cx="568.15" cy="643.35" r="2.2" fill="#7bd1cb"/>
<circle cx="565.15" cy="643.61" r="2.2" fill="#7bd1cb"/>
<circle cx="571.15" cy="644.26" r="2.2" fill="#7bd1cb"/>
<rect x="583.75" y="620.98" width="15.00" height="21.32" fill="#f3cdbf"/>
<path d="M584.45,642.30 L584.45,621.68 L598.05,621.68 L598.05,642.30" fill="none" stroke="#e8502a" stroke-width="1.25"/>
<line x1="591.25" y1="589.46" x2="591.25" y2="651.33" stroke="#3a3a3a" stroke-width="0.95"/>
<line x1="587.05" y1="589.46" x2="595.45" y2="589.46" stroke="#2a2a2a" stroke-width="1.0"/>
<line x1="587.05" y1="651.33" x2="595.45" y2="651.33" stroke="#2a2a2a" stroke-width="1.0"/>
<circle cx="591.25" cy="557.93" r="2.2" fill="#ee9c7d"/>
<circle cx="591.25" cy="571.80" r="2.2" fill="#ee9c7d"/>
<circle cx="591.25" cy="612.09" r="2.2" fill="#ee9c7d"/>
<circle cx="591.25" cy="626.34" r="2.2" fill="#ee9c7d"/>
<circle cx="591.25" cy="631.97" r="2.2" fill="#ee9c7d"/>
<circle cx="585.65" cy="638.64" r="2.2" fill="#ee9c7d"/>
<circle cx="593.35" cy="640.34" r="2.2" fill="#ee9c7d"/>
<circle cx="597.35" cy="640.34" r="2.2" fill="#ee9c7d"/>
<circle cx="585.65" cy="644.26" r="2.2" fill="#ee9c7d"/>
<circle cx="591.35" cy="641.25" r="2.2" fill="#ee9c7d"/>
<line x1="392.90" y1="642.30" x2="606.90" y2="642.30" stroke="#333" stroke-width="1.0"/>
</svg></body></html>
